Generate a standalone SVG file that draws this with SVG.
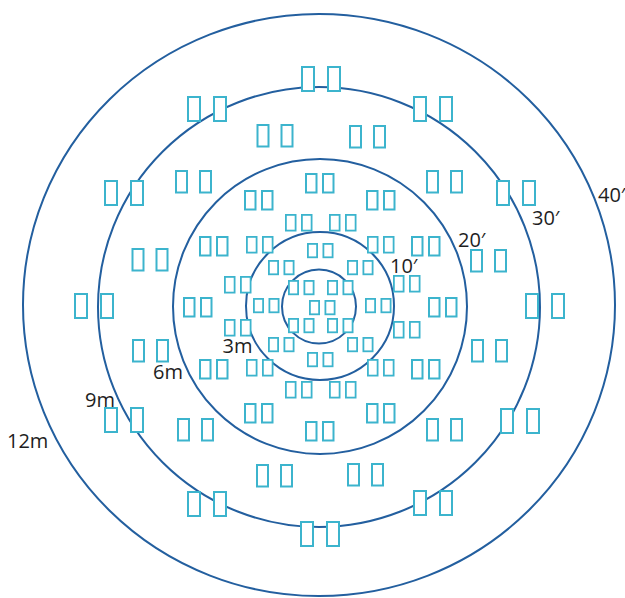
<svg xmlns="http://www.w3.org/2000/svg" xmlns:xlink="http://www.w3.org/1999/xlink" width="625" height="598" viewBox="0 0 625 598">
<style>
.ring{fill:none;stroke:#235f9f;stroke-width:2}
.box{fill:#ffffff;stroke:#3cb4cd;stroke-width:2}
.sbox{fill:#ffffff;stroke:#3cb4cd;stroke-width:1.8}
.lbl{font-family:"Open Sans","DejaVu Sans",sans-serif;font-size:20px;fill:#1e1e1e}
</style>
<defs>
<g id="pL"><rect class="box" x="1" y="1" width="12" height="24"/><rect class="box" x="27" y="1" width="12" height="24"/></g>
<g id="pM"><rect class="box" x="1" y="1" width="11" height="21.5"/><rect class="box" x="25" y="1" width="11" height="21.5"/></g>
<g id="pM2"><rect class="box" x="1" y="1" width="10.5" height="18.5"/><rect class="box" x="18" y="1" width="10.5" height="18.5"/></g>
<g id="pS"><rect class="sbox" x="0.9" y="0.9" width="9.7" height="15.7"/><rect class="sbox" x="16.9" y="0.9" width="9.7" height="15.7"/></g>
<g id="pXS"><rect class="sbox" x="0.9" y="0.9" width="9.2" height="13.4"/><rect class="sbox" x="16.4" y="0.9" width="9.2" height="13.4"/></g>
</defs>
<rect width="625" height="598" fill="#ffffff"/>
<g id="rings">
<ellipse class="ring" cx="319" cy="305" rx="296" ry="291"/>
<ellipse class="ring" cx="319" cy="307" rx="221" ry="220"/>
<ellipse class="ring" cx="320" cy="306.5" rx="147" ry="147.5"/>
<circle class="ring" cx="320" cy="306" r="74"/>
<circle class="ring" cx="319" cy="306.5" r="37"/>
</g>
<g id="labels">
<text class="lbl" x="7" y="447.5">12m</text>
<text class="lbl" x="85" y="407">9m</text>
<text class="lbl" x="153" y="379">6m</text>
<text class="lbl" x="222.5" y="353">3m</text>
<text class="lbl" x="390" y="272.5">10′</text>
<text class="lbl" x="458" y="247">20′</text>
<text class="lbl" x="532" y="225">30′</text>
<text class="lbl" x="598" y="202">40′</text>
</g>
<g id="boxes-large">
<use href="#pL" x="301" y="66"/>
<use href="#pL" x="187" y="96"/>
<use href="#pL" x="413" y="96"/>
<use href="#pL" x="104" y="180"/>
<use href="#pL" x="496" y="180"/>
<use href="#pL" x="74" y="293"/>
<use href="#pL" x="525" y="293"/>
<use href="#pL" x="104" y="407"/>
<use href="#pL" x="500" y="408"/>
<use href="#pL" x="187" y="491"/>
<use href="#pL" x="413" y="490"/>
<use href="#pL" x="300" y="521"/>
</g>
<g id="boxes-medium">
<use href="#pM" x="256.5" y="124"/>
<use href="#pM" x="349" y="125"/>
<use href="#pM" x="175" y="170"/>
<use href="#pM" x="426" y="170"/>
<use href="#pM" x="131.5" y="248"/>
<use href="#pM" x="470" y="249"/>
<use href="#pM" x="132" y="339"/>
<use href="#pM" x="471" y="339"/>
<use href="#pM" x="177" y="418"/>
<use href="#pM" x="426" y="418"/>
<use href="#pM" x="256" y="464"/>
<use href="#pM" x="347" y="463"/>
</g>
<g id="boxes-medium2">
<use href="#pM2" x="305" y="173"/>
<use href="#pM2" x="244" y="190"/>
<use href="#pM2" x="366" y="190"/>
<use href="#pM2" x="199" y="236"/>
<use href="#pM2" x="411" y="236"/>
<use href="#pM2" x="183" y="297"/>
<use href="#pM2" x="428" y="297"/>
<use href="#pM2" x="199" y="359"/>
<use href="#pM2" x="411" y="359"/>
<use href="#pM2" x="244" y="403"/>
<use href="#pM2" x="366" y="403"/>
<use href="#pM2" x="305" y="421"/>
</g>
<g id="boxes-small">
<use href="#pS" x="285" y="214"/>
<use href="#pS" x="329" y="214"/>
<use href="#pS" x="246" y="236"/>
<use href="#pS" x="367" y="236"/>
<use href="#pS" x="224" y="276"/>
<use href="#pS" x="393" y="275"/>
<use href="#pS" x="224" y="319"/>
<use href="#pS" x="393" y="321"/>
<use href="#pS" x="246" y="359"/>
<use href="#pS" x="367" y="359"/>
<use href="#pS" x="285" y="381"/>
<use href="#pS" x="329" y="381"/>
</g>
<g id="boxes-xsmall">
<use href="#pXS" x="307" y="243"/>
<use href="#pXS" x="268" y="260"/>
<use href="#pXS" x="347" y="260"/>
<use href="#pXS" x="253" y="298"/>
<use href="#pXS" x="365" y="298"/>
<use href="#pXS" x="268" y="337"/>
<use href="#pXS" x="347" y="337"/>
<use href="#pXS" x="307" y="352"/>
</g>
<g id="boxes-center">
<use href="#pXS" x="288" y="280"/>
<use href="#pXS" x="327" y="280"/>
<use href="#pXS" x="309" y="300"/>
<use href="#pXS" x="288" y="318"/>
<use href="#pXS" x="327" y="318"/>
</g>
</svg>
